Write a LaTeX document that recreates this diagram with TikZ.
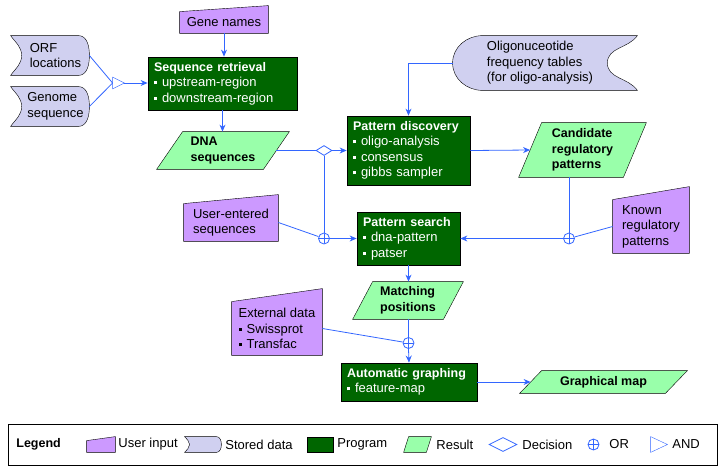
\documentclass[tikz,border=0pt]{standalone}
\usepackage{fontspec}
\setmainfont{Liberation Sans}
\usetikzlibrary{shapes.geometric,arrows.meta,backgrounds}

\definecolor{linkblue}{RGB}{51,102,255}
\definecolor{progfill}{RGB}{0,102,0}
\definecolor{resfill}{RGB}{153,255,170}
\definecolor{userfill}{RGB}{204,153,255}
\definecolor{storefill}{RGB}{208,208,240}

\newcommand{\bul}{\rule[2.5pt]{3pt}{3pt}\hspace{5pt}}
\newcommand{\ttl}[1]{\mbox{\fontsize{12.5}{15.5}\selectfont\bfseries #1}}
% outlines that go behind the named nodes
\newcommand{\userbg}[2]{\filldraw[fill=userfill] (#1.south west) -- (#1.north west) -- ([yshift=#2]#1.north east) -- (#1.south east) -- cycle;}
\newcommand{\resultbg}[2]{\filldraw[fill=resfill] ([xshift=-#2/2]#1.south west) -- ([xshift=#2/2]#1.north west) -- ([xshift=#2/2]#1.north east) -- ([xshift=-#2/2]#1.south east) -- cycle;}
\newcommand{\storebg}[2]{\filldraw[fill=storefill] ([xshift=-#2]#1.north west) -- ([xshift=-#2]#1.north east) to[out=0,in=90] (#1.east) to[out=-90,in=0] ([xshift=-#2]#1.south east) -- ([xshift=-#2]#1.south west) to[out=55,in=-90] (#1.west) to[out=90,in=-55] ([xshift=-#2]#1.north west) -- cycle;}
\newcommand{\storebgL}[2]{\filldraw[fill=storefill] ([xshift=#2]#1.north west) -- (#1.north east) to[out=-125,in=90] ([xshift=-#2]#1.east) to[out=-90,in=125] (#1.south east) -- ([xshift=#2]#1.south west) to[out=180,in=-90] (#1.west) to[out=90,in=180] ([xshift=#2]#1.north west) -- cycle;}
\newcommand{\andbg}[1]{\draw[linkblue] (#1.north west) -- (#1.east) -- (#1.south west) -- cycle;}

\begin{document}
\begin{tikzpicture}[x=1pt,y=-1pt,line width=0.8pt,
    font=\fontsize{13}{15.5}\selectfont,
    program/.style={rectangle, draw, fill=progfill, text=white, align=left, inner xsep=6pt, inner ysep=0pt},
    result/.style={rectangle, inner sep=0pt, align=left, font=\fontsize{12.5}{15.5}\selectfont\bfseries},
    userin/.style={rectangle, inner sep=0pt, align=left},
    stored/.style={rectangle, inner sep=0pt, align=left},
    decision/.style={diamond, draw=linkblue, fill=white, inner sep=0pt, minimum width=16pt, minimum height=10pt},
    orgate/.style={circle, draw=linkblue, fill=white, inner sep=0pt, minimum size=11pt,
      path picture={\draw[linkblue] (path picture bounding box.north) -- (path picture bounding box.south)
        (path picture bounding box.west) -- (path picture bounding box.east);}},
    andgate/.style={rectangle, inner sep=0pt, minimum width=11pt, minimum height=11pt},
    flow/.style={draw=linkblue, -{Stealth[length=7pt,width=6pt]}},
    link/.style={draw=linkblue},
    keytext/.style={anchor=west, inner sep=0pt}]
  \useasboundingbox (0,0) rectangle (724,472);

  % inputs
  \node[userin, minimum width=88pt, minimum height=21pt] (genes) at (224,22.5) {Gene names};
  \node[stored, minimum width=67pt, minimum height=39pt] (orf) at (55.5,55.5) {ORF\\locations};
  \node[stored, minimum width=67pt, minimum height=39pt] (genome) at (55.5,106.5) {Genome\\sequence};
  \node[andgate] (andgate) at (118.5,83) {};
  \node[stored, minimum width=184pt, minimum height=54pt] (oligo) at (545,63)
    {Oligonuceotide\\frequency tables\\(for oligo-analysis)\hspace*{10pt}};

  % programs and results
  \node[program, text width=137pt, minimum height=53pt] (seqret) at (222.5,83.5)
    {\ttl{Sequence retrieval}\\\bul upstream-region\\\bul downstream-region};
  \node[result, minimum width=106pt, minimum height=37pt] (dna) at (223,150.5) {DNA\\sequences};
  \node[decision] (dec) at (324,150.5) {};
  \node[program, text width=111pt, minimum height=69pt] (disc) at (408.5,150.5)
    {\ttl{Pattern discovery}\\\bul oligo-analysis\\\bul consensus\\\bul gibbs sampler};
  \node[result, minimum width=104pt, minimum height=54pt] (cand) at (582.5,150) {Candidate\\regulatory\\patterns};
  \node[userin, minimum width=94pt, minimum height=37pt] (user) at (231,222.5) {User-entered\\sequences};
  \node[orgate] (or1) at (324,238.5) {};
  \node[program, text width=91pt, minimum height=53pt] (search) at (408.5,238.5)
    {\ttl{Pattern search}\\\bul dna-pattern\\\bul patser};
  \node[userin, minimum width=76pt, minimum height=53pt] (known) at (651,226.5) {Known\\regulatory\\patterns};
  \node[orgate] (or2) at (569,238.5) {};
  \node[result, minimum width=90pt, minimum height=37pt] (match) at (408,300.5) {Matching\\positions};
  \node[userin, minimum width=90pt, minimum height=53pt] (ext) at (277,328.5) {External data\\\bul Swissprot\\\bul Transfac};
  \node[orgate] (or3) at (408.5,343) {};
  \node[program, text width=124pt, minimum height=38pt] (graph) at (409,382)
    {\ttl{Automatic graphing}\\\bul feature-map};
  \node[result, minimum width=145pt, minimum height=22pt] (gmap) at (603.5,382) {Graphical map};

  % connectors
  \draw[flow] (genes.south) -- (genes.south |- seqret.north);
  \draw[link] (orf.east) -- (andgate.west);
  \draw[link] (genome.east) -- (andgate.west);
  \draw[flow] (andgate.east) -- (seqret.west |- andgate.east);
  \draw[flow] (seqret.south) -- (seqret.south |- dna.north);
  \draw[link] (dna.east) -- (dec.west);
  \draw[flow] (dec.east) -- (disc.west);
  \draw[link] (dec.south) -- (or1.north);
  \draw[link] (user.east) -- (or1);
  \draw[flow] (or1.east) -- (search.west);
  \draw[flow] (oligo.west) -| (disc.north);
  \draw[flow] (disc.east) -- (cand.west);
  \draw[link] (cand.south -| or2.north) -- (or2.north);
  \draw[link] (known.west) -- (or2);
  \draw[flow] (or2.west) -- (search.east);
  \draw[flow] (search.south) -- (search.south |- match.north);
  \draw[link] (match.south -| or3.north) -- (or3.north);
  \draw[link] (ext.east) -- (or3);
  \draw[flow] (or3.south) -- (graph.north);
  \draw[flow] (graph.east) -- (graph.east -| gmap.west);

  % legend
  \node[draw, line width=1pt, minimum width=709pt, minimum height=41pt, inner sep=0pt] (legend) at (362.5,444.5) {};
  \node[keytext, font=\fontsize{12.5}{15.5}\selectfont\bfseries] (key) at (16,444.5) {Legend};
  \node[userin, minimum width=28pt, minimum height=11pt] (k-user) at (101,446.5) {};
  \node[keytext] (t-user) at (118,444.5) {User input};
  \node[stored, minimum width=31pt, minimum height=15pt] (k-store) at (205.5,444.5) {};
  \node[keytext] (t-store) at (225,444.5) {Stored data};
  \node[program, minimum width=26pt, minimum height=15pt] (k-prog) at (320,444.5) {};
  \node[keytext] (t-prog) at (337,444.5) {Program};
  \node[result, minimum width=22pt, minimum height=15pt] (k-res) at (417.5,444.5) {};
  \node[keytext] (t-res) at (436,444.5) {Result};
  \node[decision, minimum width=28pt, minimum height=14pt] (k-dec) at (503,444.5) {};
  \node[keytext] (t-dec) at (522,444.5) {Decision};
  \node[orgate] (k-or) at (593.5,444.5) {};
  \node[keytext] (t-or) at (609,444.5) {OR};
  \node[andgate, minimum width=16pt, minimum height=15pt] (k-and) at (659,444.5) {};
  \node[keytext] (t-and) at (672,444.5) {AND};

  \begin{pgfonlayer}{background}
    \userbg{genes}{6pt}
    \userbg{user}{9pt}
    \userbg{known}{13pt}
    \userbg{ext}{13pt}
    \userbg{k-user}{4pt}
    \storebg{orf}{11pt}
    \storebg{genome}{11pt}
    \storebg{k-store}{5pt}
    \storebgL{oligo}{30pt}
    \resultbg{dna}{26pt}
    \resultbg{cand}{23pt}
    \resultbg{match}{20pt}
    \resultbg{gmap}{22pt}
    \resultbg{k-res}{5pt}
    \andbg{andgate}
    \andbg{k-and}
  \end{pgfonlayer}
\end{tikzpicture}
\end{document}
